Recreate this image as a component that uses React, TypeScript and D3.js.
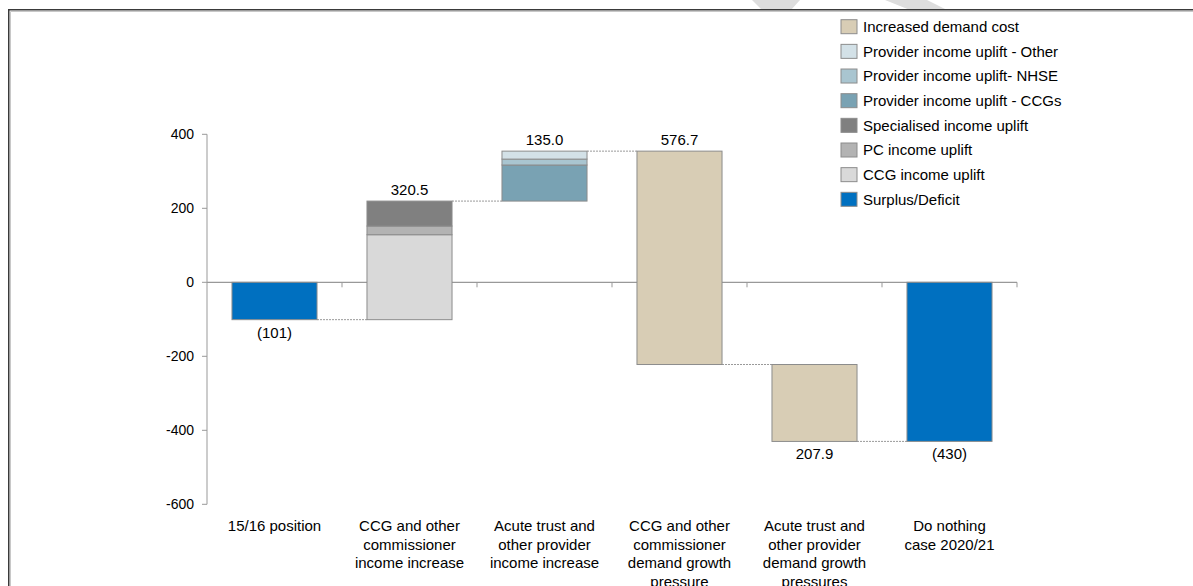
import React from "react";
import * as d3 from "d3";

// Waterfall columns (x-axis categories, one line per label row)
const categoryLines: string[][] = [
  ["15/16 position"],
  ["CCG and other", "commissioner", "income increase"],
  ["Acute trust and", "other provider", "income increase"],
  ["CCG and other", "commissioner", "demand growth", "pressure"],
  ["Acute trust and", "other provider", "demand growth", "pressures"],
  ["Do nothing", "case 2020/21"],
];
const categoryKeys = categoryLines.map((l) => l.join(" "));

// Values (£m)
const openingPosition = -101;
const commissionerIncome = [229.6, 23.4, 67.5]; // CCG, PC, Specialised uplift
const providerIncome = [97.5, 16.0, 21.5]; // CCGs, NHSE, Other
const commissionerDemand = 576.7;
const providerDemand = 207.9;
const closingPosition = -430;

const valueLabels = ["(101)", "320.5", "135.0", "576.7", "207.9", "(430)"];
const yTicks = [400, 200, 0, -200, -400, -600];

const legendItems = [
  { name: "Increased demand cost", color: "#D8CDB5" },
  { name: "Provider income uplift - Other", color: "#D3E1E7" },
  { name: "Provider income uplift- NHSE", color: "#A9C5D0" },
  { name: "Provider income uplift - CCGs", color: "#79A2B3" },
  { name: "Specialised income uplift", color: "#808080" },
  { name: "PC income uplift", color: "#B3B3B3" },
  { name: "CCG income uplift", color: "#D9D9D9" },
  { name: "Surplus/Deficit", color: "#0070C0" },
];
const colorOf = (name: string) => legendItems.find((d) => d.name === name)!.color;

type Seg = { from: number; to: number; color: string };
type Column = { segs: Seg[]; labelAbove: boolean; start: number; end: number };

function buildColumns(): Column[] {
  const cols: Column[] = [];
  // opening position
  cols.push({
    segs: [{ from: 0, to: openingPosition, color: colorOf("Surplus/Deficit") }],
    labelAbove: false,
    start: 0,
    end: openingPosition,
  });
  let level = openingPosition;
  const stack = (vals: number[], names: string[], labelAbove: boolean) => {
    const start = level;
    const segs: Seg[] = vals.map((v, i) => {
      const s = { from: level, to: level + v, color: colorOf(names[i]) };
      level += v;
      return s;
    });
    cols.push({ segs, labelAbove, start, end: level });
  };
  stack(commissionerIncome, ["CCG income uplift", "PC income uplift", "Specialised income uplift"], true);
  stack(providerIncome, ["Provider income uplift - CCGs", "Provider income uplift- NHSE", "Provider income uplift - Other"], true);
  stack([-commissionerDemand], ["Increased demand cost"], true);
  stack([-providerDemand], ["Increased demand cost"], false);
  cols.push({
    segs: [{ from: 0, to: closingPosition, color: colorOf("Surplus/Deficit") }],
    labelAbove: false,
    start: 0,
    end: closingPosition,
  });
  return cols;
}

const W = 1193;
const H = 586;
const FONT = "Arial, 'Liberation Sans', Helvetica, sans-serif";

export default function App() {
  const x = d3
    .scaleBand<string>()
    .domain(categoryKeys)
    .range([207, 1017])
    .paddingInner(0.37)
    .paddingOuter(0.185);
  const y = d3.scaleLinear().domain([-600, 400]).range([504.3, 134.3]);
  const step = x.step();
  const bw = x.bandwidth();
  const cols = buildColumns();

  return (
    <div style={{ position: "absolute", left: 0, top: 0 }}>
      <svg width={W} height={H} style={{ display: "block", fontFamily: FONT }}>
        <rect x={0} y={0} width={W} height={H} fill="#fff" />
        {/* faint watermark fragments above the frame */}
        <polygon points="752,0 800,0 791,10 762,10" fill="#DDDDDD" />
        <polygon points="885,0 927,0 947,10 910,10" fill="#DDDDDD" />
        {/* chart frame */}
        <rect x={8.75} y={9.75} width={W + 20} height={H + 20} fill="#fff" stroke="#3a3a3a" strokeWidth={1.5} />
        <line x1={10.5} y1={11.5} x2={10.5} y2={H} stroke="#c8c8c8" strokeWidth={1} />
        <line x1={10.5} y1={11.5} x2={W} y2={11.5} stroke="#c8c8c8" strokeWidth={1} />

        {/* y axis */}
        <line x1={207} x2={207} y1={y(400)} y2={y(-600)} stroke="#999" strokeWidth={1} />
        {yTicks.map((t) => (
          <g key={t}>
            <line x1={202} x2={207} y1={y(t)} y2={y(t)} stroke="#999" strokeWidth={1} />
            <text x={194} y={y(t)} dy="0.35em" textAnchor="end" fontSize={14} fill="#000">
              {t}
            </text>
          </g>
        ))}

        {/* x axis at zero */}
        <line x1={207} x2={207 + step * categoryKeys.length} y1={y(0)} y2={y(0)} stroke="#999" strokeWidth={1.2} />
        {categoryKeys.map((_, i) => (
          <line
            key={i}
            x1={207 + step * (i + 1)}
            x2={207 + step * (i + 1)}
            y1={y(0)}
            y2={y(0) + 5}
            stroke="#999"
            strokeWidth={1}
          />
        ))}

        {/* connectors */}
        {cols.slice(0, -1).map((c, i) => {
          const x0 = (x(categoryKeys[i]) as number) + bw;
          const x1 = x(categoryKeys[i + 1]) as number;
          const lvl = i === cols.length - 2 ? closingPosition : c.end;
          return (
            <line
              key={i}
              x1={x0}
              x2={x1}
              y1={y(lvl)}
              y2={y(lvl)}
              stroke="#999"
              strokeWidth={1}
              strokeDasharray="2,1"
            />
          );
        })}

        {/* bars */}
        {cols.map((c, i) => {
          const bx = x(categoryKeys[i]) as number;
          return (
            <g key={i}>
              {c.segs.map((s, j) => (
                <rect
                  key={j}
                  x={bx}
                  y={y(Math.max(s.from, s.to))}
                  width={bw}
                  height={Math.abs(y(s.from) - y(s.to))}
                  fill={s.color}
                  stroke="#8c8c8c"
                  strokeWidth={1}
                />
              ))}
              <text
                x={bx + bw / 2}
                y={
                  c.labelAbove
                    ? y(Math.max(c.start, c.end)) - 6.5
                    : y(Math.min(c.start, c.end)) + 18
                }
                textAnchor="middle"
                fontSize={15}
                fill="#000"
              >
                {valueLabels[i]}
              </text>
            </g>
          );
        })}

        {/* category labels */}
        {categoryLines.map((lines, i) => (
          <text key={i} textAnchor="middle" fontSize={15} fill="#000">
            {lines.map((ln, k) => (
              <tspan key={k} x={(x(categoryKeys[i]) as number) + bw / 2} y={531 + k * 18.6}>
                {ln}
              </tspan>
            ))}
          </text>
        ))}

        {/* legend */}
        {legendItems.map((d, i) => {
          const cy = 26.7 + i * 24.66;
          return (
            <g key={d.name}>
              <rect x={841} y={cy - 7} width={16} height={14} fill={d.color} stroke="#8c8c8c" strokeWidth={1} />
              <text x={863} y={cy} dy="0.35em" fontSize={15} fill="#000">
                {d.name}
              </text>
            </g>
          );
        })}
      </svg>
    </div>
  );
}
